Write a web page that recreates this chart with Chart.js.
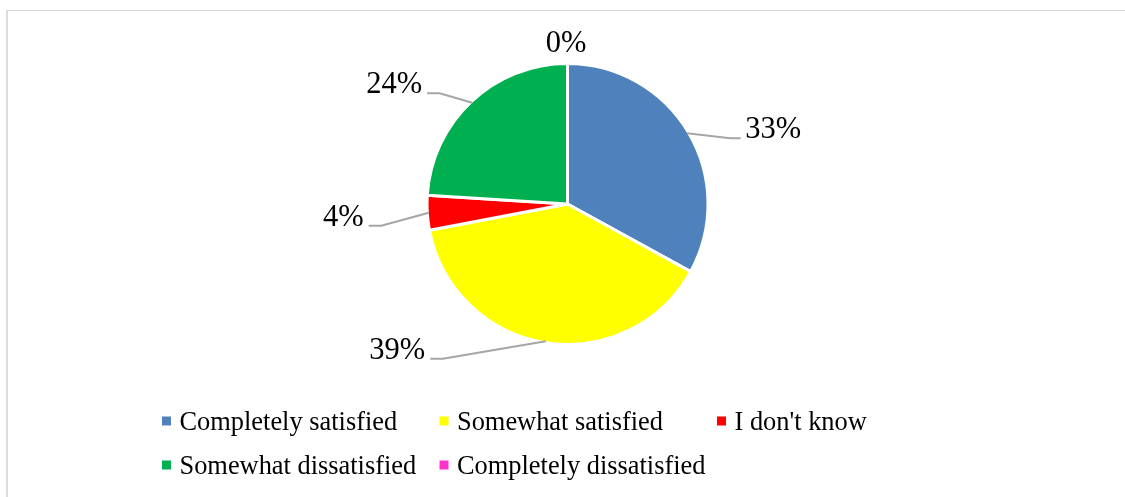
<!DOCTYPE html>
<html>
<head>
<meta charset="utf-8">
<script src="https://cdn.jsdelivr.net/npm/chart.js@4/dist/chart.umd.min.js"></script>
<style>
  html, body { margin: 0; padding: 0; background: #fff; }
  body { width: 1125px; height: 497px; position: relative; overflow: hidden; }
  #frame {
    position: absolute; left: 6px; top: 10px; width: 1140px; height: 520px;
    border-left: 2px solid #dcdcdc; border-top: 1px solid #d6d6d6;
    box-sizing: border-box;
  }
  #wrap { position: absolute; left: 0; top: 0; width: 1125px; height: 497px; }
</style>
</head>
<body>
<div id="frame"></div>
<div id="wrap"><canvas id="c" width="1125" height="497"></canvas></div>
<script>
// Survey answers (percent of respondents)
const categories = [
  'Completely satisfied',
  'Somewhat satisfied',
  "I don't know",
  'Somewhat dissatisfied',
  'Completely dissatisfied'
];
const shares = [33, 39, 4, 24, 0];
const sliceColors = ['#4F81BD', '#FFFF00', '#FF0000', '#00B050', '#FF33CC'];

// Leader-line elbows, relative to the slice's outer edge at its mid angle
const leaderElbows = [
  { dx: 43, dy: 5 },
  { dx: -103, dy: 17.4 },
  { dx: -47.6, dy: 13 },
  { dx: -32.8, dy: -9.4 },
  null
];

const labelFont = '30.5px "Liberation Serif", "Times New Roman", serif';
const legendFont = '26.4px "Liberation Serif", "Times New Roman", serif';

// Percentage labels with grey leader lines
const pieLabels = {
  id: 'pieLabels',
  afterDatasetsDraw(chart) {
    const ctx = chart.ctx;
    const meta = chart.getDatasetMeta(0);
    const values = chart.data.datasets[0].data;
    ctx.save();
    ctx.font = labelFont;
    ctx.fillStyle = '#000';
    ctx.textBaseline = 'alphabetic';
    meta.data.forEach((arc, i) => {
      const p = arc.getProps(['x', 'y', 'startAngle', 'endAngle', 'outerRadius'], true);
      const mid = (p.startAngle + p.endAngle) / 2;
      const r = p.outerRadius - 1.5;
      const ex = p.x + r * Math.cos(mid);
      const ey = p.y + r * Math.sin(mid);
      const text = values[i] + '%';
      const elbow = leaderElbows[i];
      if (!elbow) {
        ctx.textAlign = 'center';
        ctx.fillText(text, ex - 1.5, ey - 13);
        return;
      }
      const bx = ex + elbow.dx;
      const by = ey + elbow.dy;
      const right = elbow.dx > 0;
      const seg = right ? 10.5 : -12.5;
      ctx.beginPath();
      ctx.strokeStyle = '#A6A6A6';
      ctx.lineWidth = 2;
      ctx.lineJoin = 'round';
      ctx.moveTo(ex, ey);
      ctx.lineTo(bx, by);
      ctx.lineTo(bx + seg, by);
      ctx.stroke();
      ctx.textAlign = right ? 'left' : 'right';
      ctx.fillText(text, bx + seg + (right ? 4.5 : -5), by);
    });
    ctx.restore();
  }
};

// Two-row legend laid out in fixed columns
const gridLegend = {
  id: 'gridLegend',
  afterDraw(chart) {
    const ctx = chart.ctx;
    const colX = [162, 439.5, 717];
    const rowBaseline = [430, 474];
    const perRow = 3;
    const colors = chart.data.datasets[0].backgroundColor;
    ctx.save();
    ctx.font = legendFont;
    ctx.fillStyle = '#000';
    ctx.textAlign = 'left';
    ctx.textBaseline = 'alphabetic';
    chart.data.labels.forEach((label, i) => {
      const x = colX[i % perRow];
      const y = rowBaseline[Math.floor(i / perRow)];
      ctx.fillStyle = colors[i];
      ctx.fillRect(x, y - 13.5, 9, 9);
      ctx.fillStyle = '#000';
      ctx.fillText(label, x + 17.5, y);
    });
    ctx.restore();
  }
};

new Chart(document.getElementById('c'), {
  type: 'pie',
  data: {
    labels: categories,
    datasets: [{
      data: shares,
      backgroundColor: sliceColors,
      borderColor: '#FFFFFF',
      borderWidth: 3
    }]
  },
  options: {
    responsive: false,
    animation: false,
    radius: 140.5,
    layout: { padding: { left: 417.5, right: 407.5, top: 54, bottom: 143 } },
    plugins: {
      legend: { display: false },
      tooltip: { enabled: false }
    }
  },
  plugins: [pieLabels, gridLegend]
});
</script>
</body>
</html>
